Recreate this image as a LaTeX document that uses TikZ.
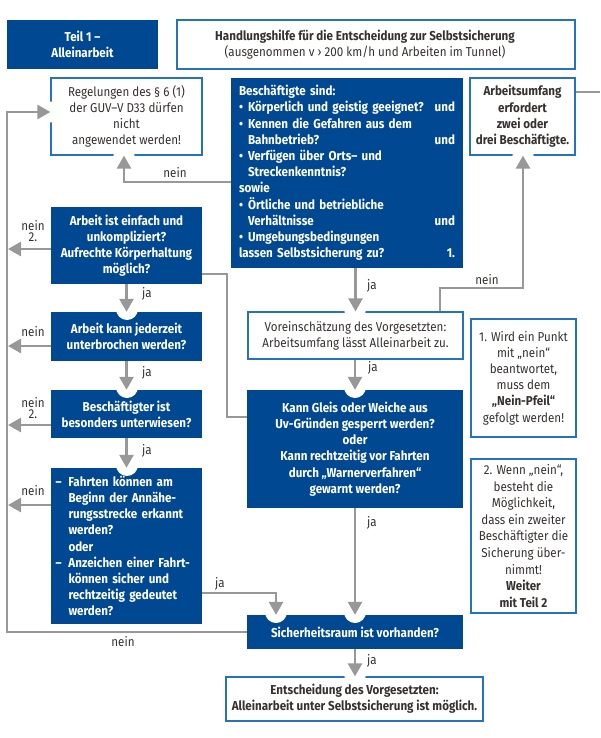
\documentclass[tikz,border=0pt]{standalone}
\usepackage{fontspec}
\setmainfont{Fira Sans}[FakeStretch=0.9]
\usetikzlibrary{arrows.meta}
\definecolor{dblue}{RGB}{0,72,145}
\definecolor{lblue}{RGB}{35,115,190}
\definecolor{agray}{RGB}{152,152,152}
\definecolor{txt}{RGB}{55,50,48}
\newcommand{\fsz}{\fontsize{12.9}{16.2}\selectfont}
\newcommand{\bul}{\makebox[9pt][l]{•}}
\newcommand{\ind}{\hspace*{9pt}}
\newcommand{\dsh}{\makebox[13pt][l]{–}}
\newcommand{\indd}{\hspace*{13pt}}
\tikzset{
  dbox/.style={draw=none, fill=dblue, text=white, font=\fsz\bfseries, inner sep=0pt, align=center},
  wbox/.style={draw=lblue, line width=1.2pt, fill=white, text=txt, font=\fsz, align=center, inner sep=0pt},
  conn/.style={draw=agray, line width=2.6pt},
  arr/.style={conn, -{Triangle[width=14pt,length=13pt]}},
  notch/.style={fill=white, draw=none},
  lbl/.style={font=\fsz, text=txt, inner sep=0pt, align=center},
}
\begin{document}
\begin{tikzpicture}[x=1pt,y=-1pt]
\useasboundingbox[fill=white] (0,0) rectangle (600,738);

% header
\node[dbox, minimum width=151, minimum height=49] (T) at (82.5,44.5) {Teil 1 –\\Alleinarbeit};
\node[wbox, minimum width=398, minimum height=49] (H) at (376,44.5) {};
\node[lbl] (Ht) at (365,44.5) {\bfseries Handlungshilfe für die Entscheidung zur Selbstsicherung\\(ausgenommen v › 200 km/h und Arbeiten im Tunnel)};

% boxes
\node[wbox, minimum width=151, minimum height=77] (R) at (126.5,116.5) {Regelungen des § 6 (1)\\der GUV–V D33 dürfen\\nicht\\angewendet werden!};
\node[dbox, minimum width=232, minimum height=190, text width=216, align=left] (B) at (347,173) {Beschäftigte sind:\\
\bul Körperlich und geistig geeignet?\hfill und\\
\bul Kennen die Gefahren aus dem\\
\ind Bahnbetrieb?\hfill und\\
\bul Verfügen über Orts– und\\
\ind Streckenkenntnis?\\
sowie\\
\bul Örtliche und betriebliche\\
\ind Verhältnisse\hfill und\\
\bul Umgebungsbedingungen\\
lassen Selbstsicherung zu?\hfill 1.};
\node[wbox, font=\fsz\bfseries, minimum width=105, minimum height=77] (U) at (522.5,116.5) {Arbeitsumfang\\erfordert\\zwei oder\\drei Beschäftigte.};

\node[dbox, minimum width=151, minimum height=77] (A) at (126.5,245.5) {Arbeit ist einfach und\\unkompliziert?\\Aufrechte Körperhaltung\\möglich?};
\node[dbox, minimum width=151, minimum height=49] (Q) at (126.5,336.5) {Arbeit kann jederzeit\\unterbrochen werden?};
\node[dbox, minimum width=151, minimum height=48] (C) at (126.5,414) {Beschäftigter ist\\besonders unterwiesen?};
\node[dbox, minimum width=151, minimum height=156, text width=142, align=left] (D) at (126.5,546) {\dsh Fahrten können am\\
\indd Beginn der Annähe-\\
\indd rungsstrecke erkannt\\
\indd werden?\\
\indd oder\\
\dsh Anzeichen einer Fahrt-\\
\indd können sicher und\\
\indd rechtzeitig gedeutet\\
\indd werden?};

\node[wbox, minimum width=215, minimum height=47] (V) at (355.5,335.5) {Voreinschätzung des Vorgesetzten:\\Arbeitsumfang lässt Alleinarbeit zu.};
\node[dbox, minimum width=216, minimum height=118] (K) at (355,449) {Kann Gleis oder Weiche aus\\Uv-Gründen gesperrt werden?\\oder\\Kann rechtzeitig vor Fahrten\\durch „Warnerverfahren“\\gewarnt werden?};
\node[dbox, minimum width=216, minimum height=34] (S) at (355,632) {Sicherheitsraum ist vorhanden?};
\node[wbox, font=\fsz\bfseries, minimum width=257, minimum height=44] (E) at (354.5,699) {Entscheidung des Vorgesetzten:\\Alleinarbeit unter Selbstsicherung ist möglich.};

\node[wbox, minimum width=105, minimum height=118] (N1) at (523.5,378) {1. Wird ein Punkt\\mit „nein“\\beantwortet,\\muss dem\\\textbf{„Nein-Pfeil“}\\gefolgt werden!};
\node[wbox, minimum width=105, minimum height=154, font=\fontsize{12.9}{16.6}\selectfont] (N2) at (523.5,536) {2. Wenn „nein“,\\besteht die\\Möglichkeit,\\dass ein zweiter\\Beschäftigter die\\Sicherung über-\\nimmt!\\\textbf{Weiter}\\\textbf{mit Teil 2}};

% notches where arrows enter
\foreach \p in {(124,158),(523,158),(355,309),(355,387),(355,612),(276,612),(355,674),(127,309),(127,387),(127,465),(48,112)}
  \fill[notch] \p circle[radius=11];

% connectors
\coordinate (outR) at (600,92);
\draw[arr] (B.west |- 0,182) -| ([xshift=-2.5pt]R.south);
\draw[arr] (V.north -| 440,0) -- (440,288) -| ([xshift=0.5pt]U.south);
\draw[conn] (U.east |- 0,92) -- (outR);
\draw[arr] (V.north |- B.south) -- (V.north);
\draw[arr] (K.north |- V.south) -- (K.north);
\draw[arr] (S.north |- K.south) -- (S.north);
\draw[arr] (S.south) -- (S.south |- E.north);
\draw[arr] (A.south) -- (Q.north);
\draw[arr] (Q.south) -- (C.north);
\draw[arr] (C.south) -- (D.north);
\draw[arr] (D.east |- 0,593) -| (S.north -| 276,0);
\draw[conn] (A.east |- 0,274) -- (227,274) -- (227,417) -- (K.west |- 0,417);
\draw[arr] (S.west) -- (7,632) -- (7,112) -- (R.west |- 0,112);
\draw[arr] (A.west |- 0,249) -- (8,249);
\draw[arr] (Q.west |- 0,346) -- (8,346);
\draw[arr] (C.west |- 0,425) -- (8,425);
\draw[arr] (D.west |- 0,505) -- (8,505);

% labels
\node[lbl] (l1) at (175,173) {nein};
\node[lbl] (l2) at (487,280) {nein};
\node[lbl] (l3) at (372,286) {ja};
\node[lbl] (l4) at (373,368) {ja};
\node[lbl] (l5) at (372,523) {ja};
\node[lbl] (l6) at (372,661) {ja};
\node[lbl] (l7) at (147,294) {ja};
\node[lbl] (l8) at (147,373) {ja};
\node[lbl] (l9) at (147,451) {ja};
\node[lbl] (l10) at (220,584) {ja};
\node[lbl] (l11) at (123,642) {nein};
\node[lbl, font=\fontsize{12.9}{11.5}\selectfont] (l12) at (33,231) {nein\\2.};
\node[lbl] (l13) at (33,332) {nein};
\node[lbl, font=\fontsize{12.9}{11.5}\selectfont] (l14) at (33,408) {nein\\2.};
\node[lbl] (l15) at (33,491) {nein};
\end{tikzpicture}
\end{document}
